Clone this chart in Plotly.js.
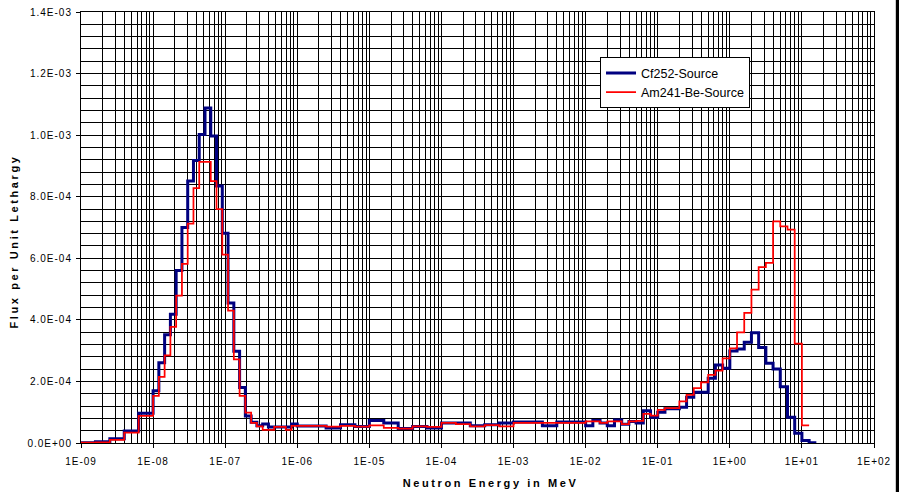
<!DOCTYPE html>
<html>
<head>
<meta charset="utf-8">
<script src="https://cdn.plot.ly/plotly-3.0.1.min.js"></script>
<style>
  html, body { margin: 0; padding: 0; background: #ffffff; }
  #chart { width: 899px; height: 492px; }
  #chart .xtick text, #chart .ytick text { letter-spacing: 1px; }
  #chart .annotation-text { letter-spacing: 2.6px; }
</style>
</head>
<body>
<div id="chart"></div>
<script>
// Bin edges (MeV) read from the step positions
const energyEdges = [
  1.000e-9, 1.585e-9, 2.512e-9, 3.981e-9, 6.310e-9,
  1.000e-8, 1.202e-8, 1.445e-8, 1.738e-8, 2.089e-8, 2.512e-8, 3.020e-8, 3.631e-8, 4.365e-8, 5.248e-8,
  6.310e-8, 7.586e-8, 9.120e-8, 1.096e-7, 1.318e-7, 1.585e-7, 1.905e-7, 2.291e-7, 2.754e-7, 3.311e-7,
  3.981e-7, 4.786e-7, 5.754e-7, 6.918e-7, 8.318e-7,
  1.000e-6, 1.585e-6, 2.512e-6, 3.981e-6, 6.310e-6,
  1.000e-5, 1.585e-5, 2.512e-5, 3.981e-5, 6.310e-5,
  1.000e-4, 1.585e-4, 2.512e-4, 3.981e-4, 6.310e-4,
  1.000e-3, 1.585e-3, 2.512e-3, 3.981e-3, 6.310e-3,
  1.000e-2, 1.259e-2, 1.585e-2, 1.995e-2, 2.512e-2, 3.162e-2, 3.981e-2, 5.012e-2, 6.310e-2, 7.943e-2,
  1.000e-1, 1.259e-1, 1.585e-1, 1.995e-1, 2.512e-1, 3.162e-1, 3.981e-1, 5.012e-1, 6.310e-1, 7.943e-1,
  1.000, 1.259, 1.585, 1.995, 2.512, 3.162, 3.981, 5.012, 6.310, 7.943,
  10.00, 12.59, 15.85
];

// Flux per unit lethargy, Cf252 source (one value per bin)
const fluxCf252 = [
  1.0e-6, 4.0e-6, 1.4e-5, 3.9e-5, 9.7e-5,
  1.70e-4, 2.61e-4, 3.52e-4, 4.18e-4, 5.60e-4, 7.00e-4, 8.51e-4, 9.18e-4, 1.002e-3, 1.088e-3,
  9.97e-4, 8.35e-4, 6.81e-4, 4.55e-4, 2.98e-4, 1.80e-4, 8.8e-5, 6.7e-5, 5.6e-5, 6.2e-5,
  5.2e-5, 5.2e-5, 5.2e-5, 5.2e-5, 6.2e-5,
  5.5e-5, 5.5e-5, 4.9e-5, 5.9e-5, 5.4e-5, 7.3e-5, 6.5e-5, 4.7e-5, 5.4e-5, 4.9e-5,
  6.5e-5, 6.5e-5, 5.6e-5, 5.9e-5, 6.5e-5, 6.8e-5, 6.8e-5, 5.6e-5, 6.8e-5, 6.8e-5,
  5.6e-5, 7.3e-5, 6.5e-5, 5.6e-5, 7.5e-5, 6.1e-5, 7.0e-5, 6.5e-5, 1.05e-4, 8.4e-5,
  1.00e-4, 1.11e-4, 1.11e-4, 1.16e-4, 1.49e-4, 1.65e-4, 1.65e-4, 2.10e-4, 2.53e-4, 2.43e-4,
  2.99e-4, 3.05e-4, 3.27e-4, 3.58e-4, 3.10e-4, 2.59e-4, 2.40e-4, 1.83e-4, 8.4e-5, 3.2e-5,
  8.0e-6, 1.0e-6
];

// Flux per unit lethargy, Am241-Be source (one value per bin)
const fluxAmBe = [
  1.0e-6, 2.0e-6, 1.0e-5, 3.4e-5, 8.8e-5,
  1.53e-4, 2.15e-4, 2.85e-4, 3.77e-4, 4.79e-4, 5.82e-4, 7.13e-4, 8.28e-4, 9.13e-4, 9.13e-4,
  8.51e-4, 7.60e-4, 6.12e-4, 4.30e-4, 2.72e-4, 1.53e-4, 9.9e-5, 6.5e-5, 5.4e-5, 4.3e-5,
  4.3e-5, 5.2e-5, 5.2e-5, 4.3e-5, 5.6e-5,
  5.6e-5, 5.6e-5, 5.3e-5, 5.6e-5, 5.3e-5, 5.7e-5, 4.9e-5, 4.7e-5, 5.4e-5, 5.2e-5,
  6.5e-5, 6.1e-5, 5.4e-5, 5.8e-5, 5.4e-5, 6.5e-5, 6.5e-5, 6.5e-5, 6.5e-5, 6.5e-5,
  7.0e-5, 7.0e-5, 6.5e-5, 7.0e-5, 7.0e-5, 6.1e-5, 7.0e-5, 7.2e-5, 9.5e-5, 8.9e-5,
  1.08e-4, 1.13e-4, 1.13e-4, 1.35e-4, 1.56e-4, 1.78e-4, 1.97e-4, 2.21e-4, 2.35e-4, 2.75e-4,
  3.07e-4, 3.59e-4, 4.23e-4, 4.98e-4, 5.71e-4, 5.85e-4, 7.20e-4, 7.04e-4, 6.93e-4, 3.23e-4,
  5.7e-5
];

const seriesNames = ['Cf252-Source', 'Am241-Be-Source'];

const xTickVals = [1e-9, 1e-8, 1e-7, 1e-6, 1e-5, 1e-4, 1e-3, 1e-2, 1e-1, 1e0, 1e1, 1e2];
const xTickText = ['1E-09', '1E-08', '1E-07', '1E-06', '1E-05', '1E-04', '1E-03', '1E-02', '1E-01', '1E+00', '1E+01', '1E+02'];
const yTickVals = [0, 2e-4, 4e-4, 6e-4, 8e-4, 1.0e-3, 1.2e-3, 1.4e-3];
const yTickText = ['0.0E+00', '2.0E-04', '4.0E-04', '6.0E-04', '8.0E-04', '1.0E-03', '1.2E-03', '1.4E-03'];

const xTitle = 'Neutron Energy in MeV';
const yTitle = 'Flux per Unit Lethargy';

function stepTrace(values, name, color, width) {
  const x = energyEdges.slice(0, values.length + 1);
  const y = values.concat([values[values.length - 1]]);
  return {
    type: 'scatter', mode: 'lines', name: name,
    x: x, y: y,
    line: { shape: 'hv', color: color, width: width },
    hoverinfo: 'skip'
  };
}

const traces = [
  stepTrace(fluxCf252, seriesNames[0], '#000080', 3),
  stepTrace(fluxAmBe, seriesNames[1], '#ff0000', 1.75)
];

const FONT = 'Arial, "Liberation Sans", sans-serif';

const layout = {
  width: 899, height: 492,
  margin: { l: 81, r: 25, t: 12, b: 49, pad: 0 },
  paper_bgcolor: '#ffffff',
  plot_bgcolor: '#ffffff',
  font: { family: FONT, size: 11, color: '#000000' },
  showlegend: true,
  legend: {
    x: 0.6545, y: 0.895, xanchor: 'left', yanchor: 'top',
    bgcolor: '#ffffff', bordercolor: '#000000', borderwidth: 1,
    font: { family: FONT, size: 12.5, color: '#000000' },
    itemwidth: 30, tracegroupgap: 0
  },
  xaxis: {
    type: 'log', range: [-9, 2],
    tickmode: 'array', tickvals: xTickVals, ticktext: xTickText,
    ticks: 'outside', ticklen: 4, tickcolor: '#000000',
    ticklabelstandoff: 5,
    showline: true, linecolor: '#000000', linewidth: 1, mirror: true,
    showgrid: true, gridcolor: '#000000', gridwidth: 1,
    minor: { dtick: 'D1', showgrid: true, gridcolor: '#000000', gridwidth: 1, ticks: '' },
    zeroline: false,
    tickfont: { family: FONT, size: 10, color: '#000000' }
  },
  yaxis: {
    range: [0, 1.4e-3],
    tickmode: 'array', tickvals: yTickVals, ticktext: yTickText,
    ticks: 'outside', ticklen: 4, tickcolor: '#000000',
    ticklabelstandoff: 2,
    showline: true, linecolor: '#000000', linewidth: 1, mirror: true,
    showgrid: true, gridcolor: '#000000', gridwidth: 1,
    minor: { dtick: 4e-5, showgrid: true, gridcolor: '#000000', gridwidth: 1, ticks: '' },
    zeroline: false,
    tickfont: { family: FONT, size: 10, color: '#000000' }
  },
  annotations: [
    { text: '<b>' + xTitle + '</b>', xref: 'paper', yref: 'paper', x: 0.517, y: -0.0928,
      xanchor: 'center', yanchor: 'middle', showarrow: false,
      font: { family: FONT, size: 11, color: '#000000' } },
    { text: '<b>' + yTitle + '</b>', xref: 'paper', yref: 'paper', x: -0.0845, y: 0.469,
      xanchor: 'center', yanchor: 'middle', showarrow: false, textangle: -90,
      font: { family: FONT, size: 11, color: '#000000' } }
  ],
  shapes: [
    { type: 'rect', xref: 'paper', yref: 'paper', x0: 1.0275, x1: 1.04, y0: -0.12, y1: 1.04,
      fillcolor: '#000000', line: { width: 0 }, layer: 'above' }
  ]
};

Plotly.newPlot('chart', traces, layout, { displayModeBar: false, staticPlot: true });
</script>
</body>
</html>
